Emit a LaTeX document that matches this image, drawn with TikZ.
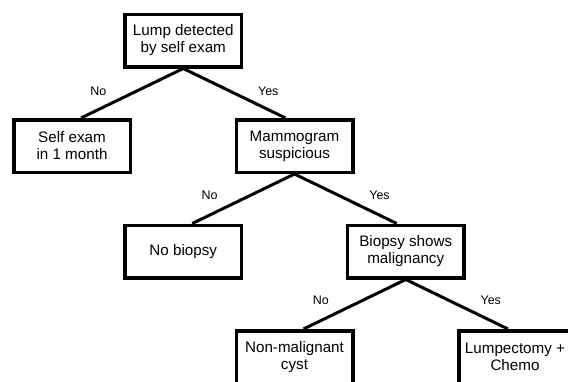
\documentclass[tikz,border=0pt]{standalone}
\usepackage{fontspec}
\setmainfont{Liberation Sans}
\begin{document}
\begin{tikzpicture}[
  x=1pt, y=-1pt,
  decision/.style={draw=black, line width=3.5pt, fill=white,
    minimum width=116.5pt, minimum height=52.5pt, inner sep=0pt},
  boxtext/.style={align=center, inner sep=0pt,
    font=\fontsize{15.2pt}{17pt}\selectfont},
  branch/.style={line width=3pt, black},
  answer/.style={font=\fontsize{12.5pt}{14pt}\selectfont, inner sep=0pt}
]
\clip (0,0) rectangle (568,381);

% decision boxes
\node[decision] (lump)   at (183.25, 40.5) {};
\node[decision] (self)   at (72,     146)  {};
\node[decision] (mammo)  at (294.5,  146)  {};
\node[decision] (nobiop) at (183.25, 251.5) {};
\node[decision] (biopsy) at (405.75, 251.5) {};
\node[decision] (cyst)   at (294.5,  357)  {};
\node[decision] (lumpec) at (517,    357)  {};

% box captions
\node[boxtext] (lumpT)   at (lump)   {Lump detected\\by self exam};
\node[boxtext] (selfT)   at (self)   {Self exam\\in 1 month};
\node[boxtext] (mammoT)  at (mammo)  {Mammogram\\suspicious};
\node[boxtext] (nobiopT) at (nobiop) {No biopsy};
\node[boxtext] (biopsyT) at (biopsy) {Biopsy shows\\malignancy};
\node[boxtext] (cystT)   at (cyst)   {Non-malignant\\cyst};
\node[boxtext] (lumpecT) at ([shift={(-2,0)}]lumpec.center) {Lumpectomy +\\Chemo};

% branches
\draw[branch] (lump.south)   -- ([shift={(9,0)}]self.north);
\draw[branch] (lump.south)   -- ([shift={(-9,0)}]mammo.north);
\draw[branch] (mammo.south)  -- ([shift={(9,0)}]nobiop.north);
\draw[branch] (mammo.south)  -- ([shift={(-9,0)}]biopsy.north);
\draw[branch] (biopsy.south) -- ([shift={(9,0)}]cyst.north);
\draw[branch] (biopsy.south) -- ([shift={(-9,0)}]lumpec.north);

% branch answers
\node[answer] (no1)  at ([shift={(-85,50.5)}]lump.center)   {No};
\node[answer] (yes1) at ([shift={(85,50.5)}]lump.center)    {Yes};
\node[answer] (no2)  at ([shift={(-85,49)}]mammo.center)    {No};
\node[answer] (yes2) at ([shift={(85,49)}]mammo.center)     {Yes};
\node[answer] (no3)  at ([shift={(-85,48.5)}]biopsy.center) {No};
\node[answer] (yes3) at ([shift={(85,48.5)}]biopsy.center)  {Yes};
\end{tikzpicture}
\end{document}
